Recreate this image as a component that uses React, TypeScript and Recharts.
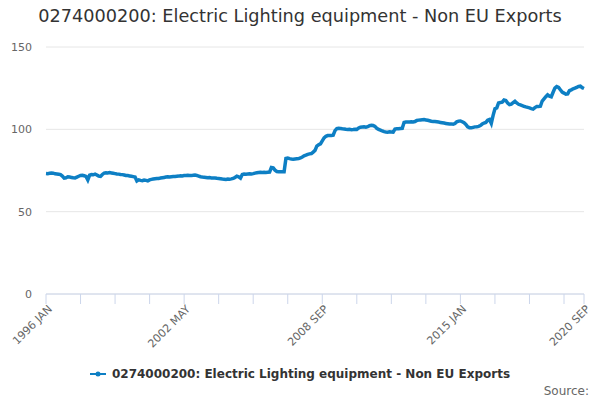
import { LineChart, Line, XAxis, YAxis, CartesianGrid } from "recharts";

const MONTHS = ["JAN", "FEB", "MAR", "APR", "MAY", "JUN", "JUL", "AUG", "SEP", "OCT", "NOV", "DEC"];
const FIRST_YEAR = 1996;

// index values, one row per year
const values1996to2000 = [
  73.2, 73.1, 73.3, 73.5, 73.4, 73.0, 72.9, 72.7, 72.5, 71.6, 70.4, 70.6,
  71.2, 71.0, 70.8, 70.6, 70.5, 71.0, 71.5, 72.0, 72.1, 71.8, 71.4, 69.3,
  72.2, 72.6, 72.4, 72.8, 72.3, 71.6, 71.4, 72.6, 73.4, 73.6, 73.5, 73.7,
  73.5, 73.3, 73.1, 72.9, 72.8, 72.6, 72.5, 72.3, 72.0, 71.9, 71.7, 71.5,
  71.3, 71.0, 68.6, 69.3, 69.0, 68.8, 69.2, 69.0, 68.7, 69.3, 69.6, 69.8,
];
const values2001to2005 = [
  70.0, 70.2, 70.1, 70.4, 70.6, 70.8, 71.0, 71.2, 71.0, 71.2, 71.3, 71.4,
  71.5, 71.6, 71.8, 71.7, 71.9, 72.0, 72.1, 72.0, 71.9, 72.1, 72.2, 72.0,
  71.6, 71.2, 71.0, 70.9, 70.8, 70.6, 70.7, 70.5, 70.4, 70.5, 70.3, 70.2,
  70.0, 69.8, 69.7, 69.6, 69.8, 69.7, 69.9, 70.2, 70.8, 71.6, 71.2, 70.4,
  72.6, 72.9, 72.8, 72.9, 73.0, 72.9, 73.1, 73.4, 73.6, 73.8, 73.9, 73.8,
];
const values2006to2010 = [
  73.9, 73.8, 73.9, 74.0, 76.8, 76.6, 75.2, 74.4, 74.3, 74.2, 74.3, 74.3,
  82.3, 82.6, 82.2, 82.0, 81.9, 82.0, 82.1, 82.2, 82.6, 83.2, 83.9, 84.3,
  84.8, 85.1, 85.3, 86.2, 87.2, 89.8, 90.6, 91.2, 93.0, 94.8, 95.8, 96.2,
  96.3, 96.2, 96.4, 99.2, 100.4, 100.6, 100.5, 100.3, 100.2, 100.0, 99.9, 100.0,
  99.8, 99.9, 100.1, 100.0, 100.8, 101.3, 101.4, 101.5, 101.3, 101.6, 102.2, 102.4,
];
const values2011to2015 = [
  102.3, 101.8, 100.6, 99.9, 99.5, 99.0, 98.6, 98.4, 98.3, 98.5, 98.4, 98.3,
  100.2, 100.4, 100.3, 100.5, 100.6, 104.2, 104.4, 104.5, 104.4, 104.6, 104.5, 104.7,
  105.4, 105.6, 105.7, 105.8, 105.9, 105.7, 105.5, 105.2, 104.9, 104.7, 104.8, 104.6,
  104.4, 104.2, 104.0, 103.8, 103.6, 103.4, 103.2, 103.3, 103.1, 103.5, 104.6, 105.0,
  105.1, 104.6, 104.0, 103.0, 101.5, 101.0, 100.9, 101.2, 101.5, 101.6, 101.8, 102.3,
];
const values2016to2020 = [
  103.2, 103.8, 104.2, 105.5, 106.0, 103.6, 108.5, 112.5, 113.0, 116.0, 116.3, 116.5,
  117.8, 117.5, 116.0, 115.0, 115.3, 116.2, 117.0, 116.0, 115.2, 114.8, 114.4, 114.0,
  113.6, 113.3, 113.0, 112.6, 112.3, 113.2, 113.9, 113.8, 114.0, 117.2, 118.5, 119.8,
  121.0, 120.2, 119.8, 122.5, 125.0, 126.0, 125.5, 124.0, 122.6, 122.0, 121.3, 121.5,
  123.5, 124.0, 124.6, 125.0, 125.5, 126.0, 126.2, 125.3, 124.8,
];

const yTicks = [0, 50, 100, 150];
const xTicks = [0, 19, 38, 57, 76, 95, 114, 133, 152, 171, 190, 209, 228, 247, 266, 285, 296];
const labelledPeriods = ["1996 JAN", "2002 MAY", "2008 SEP", "2015 JAN", "2020 SEP"];

const SERIES_NAME = "0274000200: Electric Lighting equipment - Non EU Exports";
const LINE_COLOR = "#0d7fc4";
const FONT = "'DejaVu Sans', sans-serif";

const allValues = [
  ...values1996to2000,
  ...values2001to2005,
  ...values2006to2010,
  ...values2011to2015,
  ...values2016to2020,
];

const periods = allValues.map(
  (_, i) => `${FIRST_YEAR + Math.floor(i / 12)} ${MONTHS[i % 12]}`
);

const data = allValues.map((value, i) => ({ i, period: periods[i], value }));

function PeriodTick(props: any) {
  const { x, y, payload } = props;
  const label = periods[payload.value];
  if (!labelledPeriods.includes(label)) return null;
  const tx = x + 4;
  const ty = y + 3;
  return (
    <text
      x={tx}
      y={ty}
      dy="0.35em"
      textAnchor="end"
      transform={`rotate(-45 ${tx} ${ty})`}
      fontSize={11}
      fill="#666666"
      fontFamily={FONT}
    >
      {label}
    </text>
  );
}

export default function App() {
  return (
    <div
      style={{
        position: "absolute",
        left: 0,
        top: 0,
        width: 600,
        height: 400,
        background: "#ffffff",
        fontFamily: FONT,
      }}
    >
      <div
        style={{
          position: "absolute",
          top: 6,
          left: 0,
          width: 600,
          textAlign: "center",
          fontSize: 17.7,
          color: "#333333",
        }}
      >
        {SERIES_NAME}
      </div>
      <LineChart
        width={600}
        height={400}
        data={data}
        margin={{ top: 47, right: 16, bottom: 46, left: 0 }}
      >
        <CartesianGrid vertical={false} stroke="#e6e6e6" />
        <XAxis
          dataKey="i"
          type="number"
          domain={[0, 296]}
          ticks={xTicks}
          interval={0}
          height={60}
          tickSize={10}
          tickMargin={0}
          stroke="#ccd6eb"
          tickLine={{ stroke: "#ccd6eb" }}
          tick={<PeriodTick />}
        />
        <YAxis
          domain={[0, 150]}
          ticks={yTicks}
          width={46}
          axisLine={false}
          tickLine={false}
          tickMargin={8}
          tick={{ fontSize: 11, fill: "#666666", fontFamily: FONT }}
        />
        <Line
          type="linear"
          dataKey="value"
          stroke={LINE_COLOR}
          strokeWidth={3.5}
          dot={false}
          isAnimationActive={false}
        />
      </LineChart>
      <div
        style={{
          position: "absolute",
          top: 367,
          left: 0,
          width: 600,
          display: "flex",
          justifyContent: "center",
          alignItems: "center",
          fontSize: 12,
          fontWeight: "bold",
          color: "#333333",
        }}
      >
        <svg width={16} height={10} style={{ marginRight: 6 }}>
          <line x1={0} y1={5} x2={16} y2={5} stroke={LINE_COLOR} strokeWidth={2} />
          <circle cx={8} cy={5} r={2.5} fill={LINE_COLOR} />
        </svg>
        <span>{SERIES_NAME}</span>
      </div>
      <div
        style={{
          position: "absolute",
          top: 384,
          right: 11,
          fontSize: 12,
          color: "#666666",
        }}
      >
        Source:
      </div>
    </div>
  );
}
